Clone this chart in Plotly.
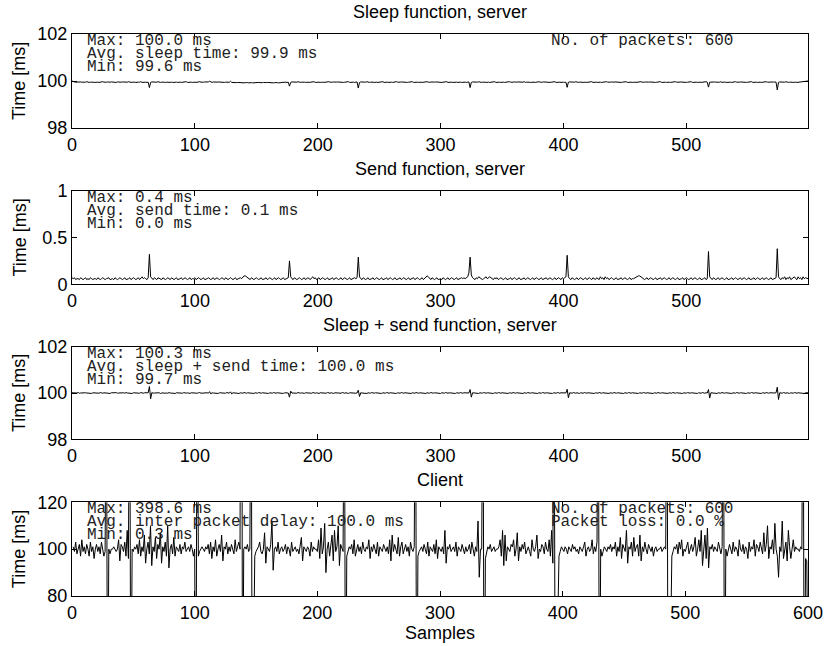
import plotly.graph_objects as go

# ---------------- data (ms) ----------------
sleep_ms = [
    100.00, 99.97, 99.96, 99.95, 99.96, 99.94, 99.95, 99.96, 99.95, 99.94, 99.96, 99.95, 99.97, 99.95, 99.94, 99.95, 99.96, 99.95, 99.94, 99.95,
    99.96, 99.95, 99.94, 99.96, 99.95, 99.97, 99.95, 99.94, 99.95, 99.96, 99.94, 99.95, 99.96, 99.95, 99.97, 99.95, 99.94, 99.96, 99.95, 99.94,
    99.95, 99.96, 99.95, 99.94, 99.96, 99.95, 99.97, 99.95, 99.94, 99.95, 99.96, 99.95, 99.94, 99.96, 99.95, 99.95, 99.97, 99.94, 99.95, 99.96,
    99.95, 99.94, 99.95, 99.72, 99.94, 99.96, 99.95, 99.94, 99.96, 99.95, 99.97, 99.95, 99.94, 99.95, 99.96, 99.95, 99.94, 99.96, 99.95, 99.94,
    99.96, 99.95, 99.94, 99.95, 99.97, 99.95, 99.94, 99.96, 99.95, 99.94, 99.95, 99.96, 99.95, 99.97, 99.94, 99.95, 99.96, 99.95, 99.94, 99.96,
    99.95, 99.94, 99.96, 99.95, 99.97, 99.95, 99.94, 99.95, 99.96, 99.95, 99.94, 99.96, 99.99, 99.95, 99.94, 99.96, 99.95, 99.94, 99.95, 99.96,
    99.95, 99.94, 99.96, 99.95, 99.94, 99.95, 99.96, 99.95, 99.94, 99.99, 99.94, 99.93, 99.94, 99.92, 99.93, 99.94, 99.93, 99.92, 99.94, 99.93,
    99.92, 99.93, 99.94, 99.93, 99.92, 99.94, 99.93, 99.92, 99.93, 99.94, 99.92, 99.93, 99.94, 99.93, 99.92, 99.93, 99.94, 99.92, 99.93, 99.94,
    99.93, 99.92, 99.94, 99.93, 99.92, 99.93, 99.94, 99.93, 99.92, 99.94, 99.93, 99.94, 99.95, 99.94, 99.95, 99.94, 99.95, 99.78, 99.94, 99.96,
    99.95, 99.94, 99.96, 99.95, 99.97, 99.95, 99.94, 99.95, 99.96, 99.95, 99.94, 99.96, 99.95, 99.94, 99.95, 99.96, 99.95, 99.97, 99.94, 99.95,
    99.96, 99.95, 99.94, 99.96, 99.95, 99.94, 99.95, 99.96, 99.95, 99.97, 99.95, 99.94, 99.95, 99.96, 99.94, 99.95, 99.96, 99.95, 99.94, 99.96,
    99.95, 99.94, 99.95, 99.96, 99.95, 99.97, 99.94, 99.95, 99.96, 99.95, 99.94, 99.95, 99.96, 99.70, 99.94, 99.96, 99.95, 99.94, 99.96, 99.95,
    99.97, 99.95, 99.94, 99.95, 99.96, 99.95, 99.94, 99.96, 99.95, 99.94, 99.95, 99.96, 99.95, 99.97, 99.94, 99.95, 99.96, 99.95, 99.94, 99.96,
    99.95, 99.94, 99.96, 99.95, 99.97, 99.95, 99.94, 99.95, 99.96, 99.95, 99.94, 99.96, 99.95, 99.94, 99.95, 99.96, 99.95, 99.97, 99.94, 99.95,
    99.96, 99.95, 99.94, 99.96, 99.95, 99.94, 99.95, 99.96, 99.95, 99.97, 99.95, 99.94, 99.95, 99.96, 99.94, 99.95, 99.96, 99.95, 99.94, 99.96,
    99.95, 99.94, 99.95, 99.96, 99.95, 99.97, 99.94, 99.95, 99.96, 99.95, 99.94, 99.95, 99.96, 99.95, 99.94, 99.96, 99.95, 99.94, 99.95, 99.96,
    99.95, 99.94, 99.95, 99.96, 99.72, 99.94, 99.96, 99.95, 99.94, 99.96, 99.95, 99.97, 99.95, 99.94, 99.95, 99.96, 99.95, 99.94, 99.96, 99.95,
    99.94, 99.95, 99.96, 99.95, 99.97, 99.94, 99.95, 99.96, 99.95, 99.94, 99.96, 99.95, 99.94, 99.95, 99.96, 99.95, 99.97, 99.95, 99.94, 99.95,
    99.96, 99.94, 99.95, 99.96, 99.95, 99.94, 99.96, 99.95, 99.97, 99.94, 99.95, 99.96, 99.95, 99.94, 99.95, 99.96, 99.95, 99.94, 99.96, 99.95,
    99.97, 99.95, 99.94, 99.95, 99.96, 99.95, 99.94, 99.96, 99.95, 99.94, 99.95, 99.96, 99.95, 99.97, 99.94, 99.95, 99.96, 99.95, 99.94, 99.96,
    99.95, 99.94, 99.95, 99.73, 99.95, 99.96, 99.95, 99.94, 99.96, 99.95, 99.97, 99.95, 99.94, 99.95, 99.96, 99.95, 99.94, 99.96, 99.95, 99.94,
    99.95, 99.96, 99.95, 99.97, 99.94, 99.95, 99.96, 99.95, 99.94, 99.96, 99.95, 99.94, 99.95, 99.96, 99.95, 99.97, 99.95, 99.94, 99.95, 99.96,
    99.94, 99.95, 99.96, 99.95, 99.94, 99.96, 99.95, 99.94, 99.95, 99.96, 99.95, 99.97, 99.94, 99.95, 99.96, 99.95, 99.94, 99.96, 99.95, 99.94,
    99.95, 99.96, 99.95, 99.97, 99.95, 99.94, 99.95, 99.96, 99.94, 99.95, 99.96, 99.95, 99.94, 99.96, 99.95, 99.94, 99.95, 99.96, 99.95, 99.97,
    99.94, 99.95, 99.96, 99.95, 99.94, 99.96, 99.95, 99.94, 99.95, 99.96, 99.95, 99.97, 99.95, 99.94, 99.95, 99.96, 99.95, 99.94, 99.96, 99.95,
    99.94, 99.95, 99.96, 99.95, 99.97, 99.94, 99.95, 99.96, 99.95, 99.94, 99.96, 99.95, 99.94, 99.95, 99.96, 99.95, 99.97, 99.95, 99.74, 99.95,
    99.96, 99.94, 99.95, 99.96, 99.95, 99.94, 99.96, 99.95, 99.97, 99.94, 99.95, 99.96, 99.95, 99.94, 99.95, 99.96, 99.95, 99.94, 99.96, 99.95,
    99.97, 99.95, 99.94, 99.95, 99.96, 99.95, 99.94, 99.96, 99.95, 99.94, 99.95, 99.96, 99.95, 99.97, 99.94, 99.95, 99.96, 99.95, 99.94, 99.96,
    99.95, 99.94, 99.95, 99.96, 99.95, 99.97, 99.95, 99.94, 99.95, 99.96, 99.94, 99.95, 99.96, 99.95, 99.62, 99.94, 99.96, 99.95, 99.94, 99.96,
    99.95, 99.97, 99.95, 99.94, 99.95, 99.96, 99.95, 99.94, 99.96, 99.95, 99.94, 99.95, 99.96, 99.95, 99.97, 99.96, 99.98, 100.00, 100.00, 100.00,
]

send_ms = [
    0.07, 0.06, 0.07, 0.05, 0.06, 0.06, 0.05, 0.07, 0.06, 0.05, 0.06, 0.07, 0.05, 0.06, 0.05, 0.07, 0.06, 0.05, 0.06, 0.06,
    0.05, 0.07, 0.06, 0.05, 0.06, 0.07, 0.06, 0.05, 0.06, 0.07, 0.07, 0.05, 0.06, 0.06, 0.05, 0.07, 0.06, 0.05, 0.06, 0.07,
    0.06, 0.05, 0.06, 0.07, 0.05, 0.06, 0.06, 0.07, 0.05, 0.06, 0.07, 0.06, 0.05, 0.06, 0.07, 0.05, 0.06, 0.08, 0.06, 0.07,
    0.06, 0.05, 0.07, 0.32, 0.08, 0.06, 0.05, 0.07, 0.06, 0.05, 0.07, 0.06, 0.06, 0.05, 0.07, 0.06, 0.05, 0.06, 0.07, 0.06,
    0.05, 0.07, 0.06, 0.05, 0.06, 0.07, 0.05, 0.06, 0.06, 0.07, 0.05, 0.06, 0.07, 0.06, 0.05, 0.06, 0.07, 0.05, 0.06, 0.06,
    0.07, 0.05, 0.06, 0.07, 0.06, 0.05, 0.06, 0.07, 0.05, 0.06, 0.06, 0.07, 0.06, 0.05, 0.06, 0.07, 0.05, 0.06, 0.07, 0.06,
    0.05, 0.06, 0.07, 0.06, 0.05, 0.07, 0.06, 0.05, 0.06, 0.07, 0.06, 0.05, 0.06, 0.07, 0.05, 0.06, 0.06, 0.07, 0.06, 0.08,
    0.09, 0.09, 0.08, 0.07, 0.06, 0.05, 0.07, 0.06, 0.05, 0.06, 0.07, 0.06, 0.05, 0.06, 0.07, 0.05, 0.06, 0.06, 0.07, 0.05,
    0.06, 0.07, 0.06, 0.05, 0.06, 0.07, 0.05, 0.06, 0.07, 0.06, 0.05, 0.06, 0.07, 0.05, 0.06, 0.06, 0.07, 0.25, 0.08, 0.06,
    0.05, 0.07, 0.06, 0.05, 0.06, 0.07, 0.06, 0.05, 0.06, 0.07, 0.05, 0.06, 0.07, 0.06, 0.05, 0.07, 0.08, 0.06, 0.07, 0.05,
    0.06, 0.07, 0.05, 0.06, 0.07, 0.06, 0.05, 0.06, 0.07, 0.05, 0.06, 0.06, 0.07, 0.05, 0.06, 0.07, 0.06, 0.05, 0.06, 0.07,
    0.05, 0.06, 0.07, 0.06, 0.05, 0.06, 0.07, 0.05, 0.06, 0.06, 0.07, 0.06, 0.07, 0.29, 0.08, 0.06, 0.05, 0.07, 0.06, 0.05,
    0.06, 0.07, 0.05, 0.06, 0.06, 0.07, 0.05, 0.06, 0.07, 0.06, 0.05, 0.06, 0.07, 0.05, 0.06, 0.06, 0.07, 0.05, 0.06, 0.07,
    0.06, 0.05, 0.06, 0.07, 0.05, 0.06, 0.06, 0.07, 0.05, 0.06, 0.07, 0.06, 0.05, 0.06, 0.07, 0.05, 0.06, 0.06, 0.07, 0.05,
    0.06, 0.07, 0.06, 0.05, 0.06, 0.07, 0.05, 0.06, 0.08, 0.09, 0.08, 0.06, 0.05, 0.07, 0.06, 0.05, 0.06, 0.07, 0.05, 0.06,
    0.06, 0.05, 0.07, 0.06, 0.05, 0.06, 0.07, 0.05, 0.06, 0.07, 0.06, 0.05, 0.06, 0.07, 0.05, 0.06, 0.06, 0.07, 0.06, 0.07,
    0.06, 0.07, 0.08, 0.12, 0.29, 0.10, 0.07, 0.06, 0.05, 0.07, 0.06, 0.08, 0.07, 0.06, 0.05, 0.06, 0.07, 0.08, 0.06, 0.07,
    0.08, 0.07, 0.06, 0.05, 0.07, 0.06, 0.07, 0.05, 0.06, 0.07, 0.06, 0.05, 0.06, 0.07, 0.05, 0.06, 0.06, 0.07, 0.05, 0.06,
    0.07, 0.06, 0.05, 0.06, 0.07, 0.05, 0.06, 0.06, 0.07, 0.05, 0.06, 0.07, 0.06, 0.05, 0.06, 0.07, 0.05, 0.06, 0.07, 0.06,
    0.05, 0.06, 0.07, 0.05, 0.06, 0.06, 0.07, 0.05, 0.06, 0.07, 0.06, 0.05, 0.06, 0.07, 0.05, 0.06, 0.07, 0.06, 0.05, 0.07,
    0.06, 0.07, 0.08, 0.31, 0.08, 0.06, 0.05, 0.07, 0.06, 0.05, 0.06, 0.07, 0.05, 0.06, 0.07, 0.06, 0.05, 0.06, 0.07, 0.05,
    0.06, 0.07, 0.06, 0.05, 0.07, 0.06, 0.05, 0.07, 0.06, 0.05, 0.08, 0.06, 0.07, 0.05, 0.08, 0.06, 0.07, 0.05, 0.06, 0.07,
    0.06, 0.05, 0.06, 0.07, 0.05, 0.06, 0.06, 0.07, 0.05, 0.06, 0.07, 0.06, 0.05, 0.06, 0.07, 0.05, 0.06, 0.06, 0.07, 0.08,
    0.09, 0.09, 0.09, 0.08, 0.07, 0.06, 0.05, 0.06, 0.07, 0.05, 0.06, 0.07, 0.06, 0.05, 0.06, 0.07, 0.05, 0.06, 0.06, 0.07,
    0.05, 0.06, 0.07, 0.06, 0.05, 0.06, 0.07, 0.05, 0.06, 0.07, 0.06, 0.05, 0.06, 0.07, 0.05, 0.06, 0.06, 0.07, 0.05, 0.06,
    0.07, 0.06, 0.05, 0.06, 0.07, 0.05, 0.06, 0.07, 0.06, 0.05, 0.06, 0.07, 0.05, 0.06, 0.06, 0.07, 0.05, 0.06, 0.35, 0.08,
    0.06, 0.05, 0.07, 0.06, 0.05, 0.06, 0.07, 0.05, 0.06, 0.07, 0.06, 0.05, 0.06, 0.07, 0.05, 0.06, 0.06, 0.07, 0.05, 0.06,
    0.07, 0.06, 0.05, 0.06, 0.07, 0.05, 0.06, 0.07, 0.06, 0.05, 0.06, 0.07, 0.05, 0.06, 0.06, 0.07, 0.05, 0.06, 0.07, 0.06,
    0.05, 0.06, 0.07, 0.05, 0.06, 0.07, 0.06, 0.05, 0.06, 0.07, 0.05, 0.06, 0.06, 0.07, 0.38, 0.08, 0.06, 0.05, 0.07, 0.06,
    0.08, 0.05, 0.07, 0.06, 0.08, 0.05, 0.06, 0.07, 0.08, 0.06, 0.05, 0.08, 0.06, 0.07, 0.05, 0.08, 0.06, 0.07, 0.06, 0.06,
]

sleep_send_ms = [
    100.01, 100.00, 99.99, 100.01, 100.00, 100.02, 99.99, 100.00, 100.01, 99.99, 100.00, 100.01, 100.00, 99.99, 100.01, 100.00, 99.98, 100.01, 100.00, 99.99,
    100.01, 100.00, 99.99, 100.02, 100.00, 99.99, 100.01, 100.00, 99.99, 100.01, 100.00, 99.98, 100.01, 100.00, 99.99, 100.01, 100.02, 99.99, 100.00, 100.01,
    99.99, 100.00, 100.01, 99.99, 100.02, 100.00, 99.99, 100.01, 100.00, 99.98, 100.01, 100.00, 99.99, 100.01, 100.00, 99.99, 100.02, 100.00, 99.99, 100.01,
    100.00, 99.99, 100.01, 100.28, 99.75, 100.02, 99.99, 100.00, 100.01, 99.99, 100.00, 100.01, 99.98, 100.00, 100.01, 99.99, 100.01, 100.00, 99.99, 100.02,
    100.00, 99.99, 100.01, 100.00, 99.98, 100.01, 100.00, 99.99, 100.01, 100.00, 99.99, 100.02, 100.00, 99.99, 100.01, 100.00, 99.98, 100.01, 100.00, 99.99,
    100.01, 100.00, 99.99, 100.01, 100.02, 99.99, 100.00, 100.01, 99.99, 100.00, 100.01, 99.99, 100.06, 99.96, 100.01, 100.00, 99.99, 100.01, 100.00, 99.98,
    100.01, 100.00, 99.99, 100.01, 100.00, 99.99, 100.02, 100.00, 99.99, 100.05, 99.96, 100.01, 100.00, 99.99, 100.01, 100.00, 99.98, 100.01, 100.00, 99.99,
    100.02, 100.00, 99.99, 100.01, 100.00, 99.99, 100.01, 100.00, 99.98, 100.01, 100.00, 99.99, 100.02, 100.00, 99.99, 100.01, 100.00, 99.99, 100.01, 100.00,
    99.98, 100.01, 100.00, 99.99, 100.02, 100.00, 99.99, 100.01, 100.00, 99.99, 100.01, 100.00, 99.98, 100.01, 100.00, 99.99, 100.00, 99.82, 100.08, 100.00,
    99.99, 100.01, 100.00, 99.99, 100.02, 100.00, 99.99, 100.01, 100.00, 99.98, 100.01, 100.00, 99.99, 100.01, 100.00, 99.99, 100.02, 100.00, 99.99, 100.01,
    100.00, 99.98, 100.01, 100.00, 99.99, 100.01, 100.00, 99.99, 100.02, 100.00, 99.99, 100.01, 100.00, 99.98, 100.01, 100.00, 99.99, 100.01, 100.00, 99.99,
    100.02, 100.00, 99.99, 100.01, 100.00, 99.98, 100.01, 100.00, 99.99, 100.01, 100.00, 99.99, 100.00, 100.12, 99.85, 100.01, 100.00, 99.99, 100.01, 100.00,
    99.98, 100.01, 100.00, 99.99, 100.02, 100.00, 99.99, 100.01, 100.00, 99.99, 100.01, 100.00, 99.98, 100.01, 100.00, 99.99, 100.02, 100.00, 99.99, 100.01,
    100.00, 99.99, 100.01, 100.00, 99.98, 100.01, 100.00, 99.99, 100.02, 100.00, 99.99, 100.01, 100.00, 99.99, 100.01, 100.00, 99.98, 100.01, 100.00, 99.99,
    100.02, 100.00, 99.99, 100.01, 100.00, 99.99, 100.01, 100.00, 99.98, 100.01, 100.00, 99.99, 100.02, 100.00, 99.99, 100.01, 100.00, 99.99, 100.01, 100.00,
    99.98, 100.01, 100.00, 99.99, 100.02, 100.00, 99.99, 100.01, 100.00, 99.99, 100.01, 100.00, 99.98, 100.01, 100.00, 99.99, 100.02, 100.00, 99.99, 100.01,
    100.00, 99.99, 100.01, 100.00, 100.15, 99.82, 100.01, 100.00, 99.99, 100.01, 100.00, 99.98, 100.01, 100.00, 99.99, 100.02, 100.00, 99.99, 100.01, 100.00,
    99.99, 100.01, 100.00, 99.98, 100.01, 100.00, 99.99, 100.02, 100.00, 99.99, 100.01, 100.00, 99.99, 100.01, 100.00, 99.98, 100.01, 100.00, 99.99, 100.02,
    100.00, 99.99, 100.01, 100.00, 99.99, 100.01, 100.00, 99.98, 100.01, 100.00, 99.99, 100.02, 100.00, 99.99, 100.01, 100.00, 99.99, 100.01, 100.00, 99.98,
    100.01, 100.00, 99.99, 100.02, 100.00, 99.99, 100.01, 100.00, 99.99, 100.01, 100.00, 99.98, 100.01, 100.00, 99.99, 100.02, 100.00, 99.99, 100.01, 100.00,
    99.99, 100.01, 100.00, 100.16, 99.80, 100.01, 100.00, 99.99, 100.02, 100.00, 99.99, 100.01, 100.00, 99.98, 100.01, 100.00, 99.99, 100.02, 100.00, 99.99,
    100.01, 100.00, 99.99, 100.01, 100.00, 99.98, 100.01, 100.00, 99.99, 100.02, 100.00, 99.99, 100.01, 100.00, 99.99, 100.01, 100.00, 99.98, 100.01, 100.00,
    99.99, 100.02, 100.00, 99.99, 100.01, 100.00, 99.99, 100.01, 100.00, 99.98, 100.01, 100.00, 99.99, 100.02, 100.00, 99.99, 100.01, 100.00, 99.99, 100.01,
    100.00, 99.98, 100.01, 100.00, 99.99, 100.02, 100.00, 99.99, 100.01, 100.00, 99.99, 100.01, 100.00, 99.98, 100.01, 100.00, 99.99, 100.02, 100.00, 99.99,
    100.01, 100.00, 99.99, 100.01, 100.00, 99.98, 100.01, 100.00, 99.99, 100.02, 100.00, 99.99, 100.01, 100.00, 99.99, 100.01, 100.00, 99.98, 100.01, 100.00,
    99.99, 100.02, 100.00, 99.99, 100.01, 100.00, 99.99, 100.01, 100.00, 99.98, 100.01, 100.00, 99.99, 100.02, 100.00, 99.99, 100.01, 100.00, 100.15, 99.78,
    100.01, 100.00, 99.99, 100.01, 100.00, 99.98, 100.01, 100.00, 99.99, 100.02, 100.00, 99.99, 100.01, 100.00, 99.99, 100.01, 100.00, 99.98, 100.01, 100.00,
    99.99, 100.02, 100.00, 99.99, 100.01, 100.00, 99.99, 100.01, 100.00, 99.98, 100.01, 100.00, 99.99, 100.02, 100.00, 99.99, 100.01, 100.00, 99.99, 100.01,
    100.00, 99.98, 100.01, 100.00, 99.99, 100.02, 100.00, 99.99, 100.01, 100.00, 99.99, 100.01, 100.00, 100.01, 100.25, 99.72, 100.01, 100.00, 99.99, 100.02,
    100.00, 99.99, 100.01, 100.00, 99.98, 100.01, 100.00, 99.99, 100.02, 100.00, 99.99, 100.01, 100.00, 99.99, 100.01, 100.00, 99.98, 100.01, 100.00, 100.01,
]

# client inter-packet delay, samples 1..600 (ordinary jitter)
client_ms = [
    101, 99, 103, 98, 100, 102, 97, 104, 99, 101, 98, 102, 100, 97, 103, 99, 101, 96, 100, 102,
    99, 101, 98, 103, 100, 97, 99, 100, 100, 100, 98, 100, 100, 101, 100, 99, 100, 104, 95, 102,
    101, 99, 103, 97, 108, 96, 100, 100, 100, 99, 101, 100, 102, 98, 104, 97, 101, 99, 106, 94,
    100, 103, 98, 110, 93, 101, 99, 105, 96, 102, 100, 107, 94, 101, 99, 103, 97, 110, 92, 100,
    102, 98, 105, 97, 101, 100, 99, 102, 98, 101, 100, 103, 99, 100, 101, 99, 102, 100, 97, 100,
    100, 100, 97, 99, 100, 101, 100, 99, 101, 100, 102, 98, 103, 96, 101, 99, 104, 97, 100, 102,
    99, 106, 95, 101, 100, 103, 98, 101, 99, 102, 100, 98, 104, 99, 101, 103, 100, 100, 100, 100,
    101, 100, 102, 99, 100, 100, 100, 100, 97, 99, 100, 101, 103, 99, 98, 100, 107, 94, 101, 100,
    99, 102, 112, 91, 100, 101, 99, 103, 98, 100, 101, 99, 100, 102, 98, 101, 100, 97, 103, 99,
    100, 101, 99, 100, 98, 102, 105, 95, 101, 100, 99, 101, 100, 97, 103, 99, 101, 100, 100, 99,
    104, 96, 109, 98, 101, 111, 90, 100, 103, 97, 101, 106, 95, 108, 99, 101, 110, 93, 102, 100,
    99, 100, 100, 97, 99, 101, 100, 102, 98, 104, 97, 100, 102, 99, 101, 98, 103, 100, 99, 101,
    100, 104, 96, 101, 99, 102, 100, 98, 103, 97, 101, 100, 99, 102, 100, 99, 101, 98, 104, 95,
    106, 99, 102, 100, 98, 105, 97, 101, 103, 98, 100, 102, 99, 101, 97, 103, 100, 99, 101, 100,
    100, 97, 99, 100, 101, 99, 102, 100, 98, 103, 97, 101, 100, 99, 102, 98, 104, 96, 101, 100,
    99, 101, 98, 108, 94, 101, 100, 102, 99, 100, 101, 99, 103, 97, 101, 100, 99, 102, 100, 98,
    101, 99, 100, 102, 98, 103, 100, 97, 101, 99, 112, 88, 100, 100, 100, 100, 96, 99, 101, 100,
    102, 99, 100, 101, 99, 100, 100, 101, 104, 97, 108, 93, 106, 95, 101, 100, 99, 102, 101, 104,
    97, 100, 107, 95, 101, 99, 102, 100, 103, 98, 100, 101, 99, 97, 104, 100, 99, 101, 106, 96,
    100, 99, 102, 101, 98, 103, 100, 99, 104, 97, 108, 94, 100, 100, 100, 100, 97, 99, 101, 100,
    99, 101, 100, 98, 101, 100, 99, 102, 100, 101, 99, 100, 98, 101, 100, 99, 101, 103, 97, 100,
    101, 99, 100, 104, 98, 101, 99, 103, 100, 100, 100, 97, 99, 101, 100, 99, 101, 100, 102, 99,
    101, 100, 103, 97, 101, 99, 105, 96, 102, 100, 99, 108, 94, 101, 100, 103, 97, 105, 99, 101,
    102, 97, 106, 95, 101, 99, 103, 100, 98, 102, 100, 99, 101, 97, 100, 101, 99, 100, 100, 101,
    99, 100, 101, 100, 100, 100, 100, 100, 97, 99, 101, 100, 102, 98, 103, 100, 104, 97, 100, 99,
    101, 103, 98, 100, 102, 99, 101, 105, 97, 100, 104, 99, 108, 93, 100, 106, 96, 109, 92, 101,
    100, 102, 99, 101, 100, 99, 103, 100, 98, 101, 100, 100, 100, 97, 99, 102, 100, 98, 103, 99,
    101, 100, 97, 104, 100, 99, 102, 98, 101, 100, 96, 103, 99, 101, 100, 104, 97, 102, 101, 99,
    103, 100, 98, 107, 99, 102, 110, 96, 101, 100, 104, 98, 111, 100, 97, 88, 101, 99, 112, 96,
    101, 103, 95, 108, 101, 96, 100, 104, 99, 101, 100, 100, 99, 101, 100, 100, 100, 96, 95, 100,
]

# bursts: delayed packets (long interval followed by very short one)
burst_sample = [28, 29, 47, 48, 101, 102, 138, 139, 146, 147, 148, 222, 223, 280, 281,
                335, 336, 393, 394, 395, 396, 429, 430, 485, 486, 487, 488, 531, 532, 596, 597, 600]
burst_ms = [199.6, 1.1, 197.8, 2.4, 0.3, 199.2, 398.6, 1.5, 201.3, 0.9, 45.0, 198.1, 2.0, 199.0, 1.8,
            196.5, 3.2, 200.4, 1.3, 40.0, 62.0, 198.7, 1.6, 199.3, 0.8, 35.0, 60.0, 201.0, 0.7, 198.9, 1.2, 42.0]

titles = ["Sleep function, server", "Send function, server",
          "Sleep + send function, server", "Client"]
stats_left = [
    ["Max: 100.0 ms", "Avg. sleep time: 99.9 ms", "Min: 99.6 ms"],
    ["Max: 0.4 ms", "Avg. send time: 0.1 ms", "Min: 0.0 ms"],
    ["Max: 100.3 ms", "Avg. sleep + send time: 100.0 ms", "Min: 99.7 ms"],
    ["Max: 398.6 ms", "Avg. inter packet delay: 100.0 ms", "Min: 0.3 ms"],
]
stats_right = [["No. of packets: 600"], [], [], ["No. of packets: 600", "Packet loss: 0.0 %"]]

y_ranges = [[98, 102], [0, 1], [98, 102], [80, 120]]
y_ticks = [[98, 100, 102], [0, 0.5, 1], [98, 100, 102], [80, 100, 120]]
y_ticktext = [["98", "100", "102"], ["0", "0.5", "1"], ["98", "100", "102"], ["80", "100", "120"]]
x_ranges = [[0, 599], [0, 599], [0, 599], [0, 600]]
x_ticks = [[0, 100, 200, 300, 400, 500], [0, 100, 200, 300, 400, 500],
           [0, 100, 200, 300, 400, 500], [0, 100, 200, 300, 400, 500, 600]]

# ---------------- build ----------------
client_series = list(client_ms)
for s, v in zip(burst_sample, burst_ms):
    client_series[s - 1] = v

series = [
    (list(range(len(sleep_ms))), sleep_ms),
    (list(range(len(send_ms))), send_ms),
    (list(range(len(sleep_send_ms))), sleep_send_ms),
    (list(range(1, len(client_series) + 1)), client_series),
]

W, H = 826, 646
ML, MR, MT, MB = 72, 18, 34, 50
PW = W - ML - MR
PH = H - MT - MB
tops = [34, 190.7, 346.7, 502.3]
bottoms = [128, 284.3, 439.3, 596]


def px_y(y):
    return (H - MB - y) / PH


def px_x(x):
    return (x - ML) / PW


SANS = "Liberation Sans, Arial, Helvetica, sans-serif"
MONO = "Courier New, Liberation Mono, monospace"
SANS_SIZE = 18

fig = go.Figure()
layout = dict(
    width=W, height=H,
    margin=dict(l=ML, r=MR, t=MT, b=MB, autoexpand=False),
    paper_bgcolor="white", plot_bgcolor="white",
    showlegend=False,
    font=dict(family=SANS, size=SANS_SIZE, color="black"),
)

annotations = []
for i, (xs, ys) in enumerate(series):
    n = i + 1
    xa = "x" if n == 1 else f"x{n}"
    ya = "y" if n == 1 else f"y{n}"
    fig.add_trace(go.Scatter(x=xs, y=ys, mode="lines",
                             line=dict(color="black", width=1),
                             xaxis=xa, yaxis=ya, hoverinfo="skip"))
    axis_common = dict(showline=True, linecolor="black", linewidth=1, mirror="ticks",
                       ticks="inside", ticklen=5, tickcolor="black", tickwidth=1,
                       showgrid=False, zeroline=False, automargin=False,
                       tickfont=dict(family=SANS, size=SANS_SIZE, color="black"))
    layout["xaxis" if n == 1 else f"xaxis{n}"] = dict(
        axis_common, domain=[0, 1], anchor=ya, range=x_ranges[i],
        tickvals=x_ticks[i], ticktext=[str(t) for t in x_ticks[i]])
    layout["yaxis" if n == 1 else f"yaxis{n}"] = dict(
        axis_common, domain=[px_y(bottoms[i]), px_y(tops[i])], anchor=xa,
        range=y_ranges[i], tickvals=y_ticks[i], ticktext=y_ticktext[i])

    # subplot title
    annotations.append(dict(text=titles[i], xref="paper", yref="paper",
                            x=px_x(440), y=px_y(tops[i] - 22), xanchor="center", yanchor="middle",
                            showarrow=False, font=dict(family=SANS, size=SANS_SIZE, color="black")))
    # y label
    annotations.append(dict(text="Time [ms]", xref="paper", yref="paper",
                            x=px_x(19), y=px_y((tops[i] + bottoms[i]) / 2), xanchor="center",
                            yanchor="middle", textangle=-90, showarrow=False,
                            font=dict(family=SANS, size=SANS_SIZE, color="black")))
    for j, line in enumerate(stats_left[i]):
        annotations.append(dict(text=line, xref="paper", yref="paper",
                                x=px_x(85), y=px_y(tops[i] + 7 + 13 * j),
                                xanchor="left", yanchor="middle", showarrow=False,
                                font=dict(family=MONO, size=16, color="#222222")))
    for j, line in enumerate(stats_right[i]):
        annotations.append(dict(text=line, xref="paper", yref="paper",
                                x=px_x(549), y=px_y(tops[i] + 7 + 13 * j),
                                xanchor="left", yanchor="middle", showarrow=False,
                                font=dict(family=MONO, size=16, color="#222222")))

annotations.append(dict(text="Samples", xref="paper", yref="paper",
                        x=px_x(440), y=px_y(633), xanchor="center", yanchor="middle",
                        showarrow=False, font=dict(family=SANS, size=SANS_SIZE, color="black")))

layout["annotations"] = annotations
fig.update_layout(**layout)
# remove the default page margin so the figure sits at the window origin
fig.write_html("out.html", config={"displayModeBar": False},
               post_script="document.body.style.margin='0';")
